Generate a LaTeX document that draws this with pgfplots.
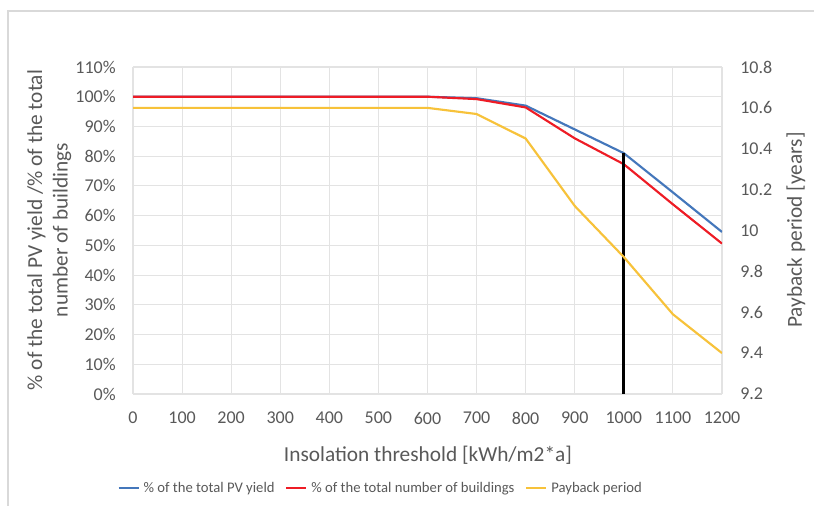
\documentclass[border=0pt]{standalone}
\usepackage{pgfplots}
\pgfplotsset{compat=1.18}
\usepackage{fontspec}
\setmainfont{Carlito}
\definecolor{cblue}{HTML}{4477BB}
\definecolor{cred}{HTML}{EE1C25}
\definecolor{cyellow}{HTML}{F7C23A}
\definecolor{tgray}{HTML}{595959}
\definecolor{ggray}{HTML}{E3E3E3}
\definecolor{fgray}{HTML}{D9D9D9}
\begin{document}
\begin{tikzpicture}
\useasboundingbox (0,0) rectangle (610.5pt,379.5pt);
\fill[white] (0,0) rectangle (610.5pt,379.5pt);
\draw[fgray,line width=0.9pt] (6pt,-5pt) -- (6pt,371.25pt) -- (620pt,371.25pt);
\begin{axis}[
  at={(99.75pt,84pt)}, anchor=south west,
  scale only axis, width=441.75pt, height=245.25pt,
  xmin=0, xmax=1200, ymin=0, ymax=110,
  xtick={0,100,...,1200}, ytick={0,10,...,110},
  axis y line*=left, axis x line*=bottom,
  y axis line style={draw=none}, x axis line style={draw=ggray,line width=0.8pt},
  major tick length=0pt,
  grid=major, major grid style={ggray,line width=0.8pt},
  /pgf/number format/assume math mode=true,
  /pgf/number format/1000 sep={},
  tick label style={font=\fontsize{13.5}{16}\selectfont, text=tgray},
  xticklabel style={anchor=center, yshift=-18pt},
  yticklabel style={anchor=east, inner sep=0pt, xshift=-12.75pt},
  yticklabel={\pgfmathprintnumber{\tick}\%},
  legend style={at={(0.421,-0.2875)}, anchor=center, draw=none, fill=none,
    legend columns=-1, font=\fontsize{11}{13}\selectfont, text=tgray,
    /tikz/every odd column/.append style={column sep=1pt},
    /tikz/every even column/.append style={column sep=6pt}},
  legend cell align=left,
  legend image code/.code={\draw[#1] (0pt,0pt) -- (15pt,0pt);},
  every axis plot/.append style={line width=1.6pt},
]
\addplot[cblue] coordinates {(0,100) (100,100) (200,100) (300,100) (400,100) (500,100) (600,100) (700,99.5) (800,97) (900,89) (1000,81) (1100,67.8) (1200,54.5)};
\addlegendentry{\% of the total PV yield}
\addplot[cred] coordinates {(0,100) (100,100) (200,100) (300,100) (400,100) (500,100) (600,100) (700,99.2) (800,96.4) (900,86) (1000,77.3) (1100,63.8) (1200,50.6)};
\addlegendentry{\% of the total number of buildings}
\addlegendimage{cyellow,line width=1.6pt}
\addlegendentry{Payback period}
\addplot[black,line width=2.2pt,forget plot] coordinates {(1000,0) (1000,81)};
\end{axis}
\begin{axis}[
  at={(99.75pt,84pt)}, anchor=south west,
  scale only axis, width=441.75pt, height=245.25pt,
  xmin=0, xmax=1200, ymin=9.2, ymax=10.8,
  axis y line*=right, axis x line=none,
  y axis line style={draw=none},
  major tick length=0pt,
  ytick={9.2,9.4,9.6,9.8,10,10.2,10.4,10.6,10.8},
  yticklabels={9.2,9.4,9.6,9.8,10,10.2,10.4,10.6,10.8},
  /pgf/number format/assume math mode=true,
  tick label style={font=\fontsize{13.5}{16}\selectfont, text=tgray},
  yticklabel style={anchor=west, inner sep=0pt, xshift=13.5pt},
]
\addplot[cyellow,line width=1.6pt] coordinates {(0,10.6) (100,10.6) (200,10.6) (300,10.6) (400,10.6) (500,10.6) (600,10.6) (700,10.57) (800,10.45) (900,10.12) (1000,9.87) (1100,9.59) (1200,9.40)};
\end{axis}
\node[text=tgray,font=\fontsize{16}{19}\selectfont] at (321pt,38.25pt) {Insolation threshold [kWh/m2*a]};
\node[text=tgray,font=\fontsize{16}{19}\selectfont,rotate=90,align=center] at (37pt,207pt) {\% of the total PV yield /\% of the total\\number of buildings};
\node[text=tgray,font=\fontsize{16}{19}\selectfont,rotate=90] at (597pt,207pt) {Payback period [years]};
\end{tikzpicture}
\end{document}
